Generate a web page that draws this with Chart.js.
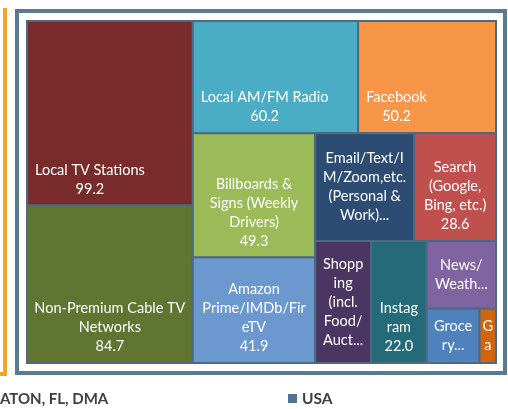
<!DOCTYPE html>
<html>
<head>
<meta charset="utf-8">
<script src="https://cdn.jsdelivr.net/npm/chart.js@4.4.1/dist/chart.umd.min.js"></script>
<style>
  html, body { margin: 0; padding: 0; background: #fff; }
  #wrap { position: relative; width: 508px; height: 409px; overflow: hidden; font-family: Lato, "Open Sans", sans-serif; }
  #side { position: absolute; left: -10px; top: 8px; width: 13px; height: 364px; border-right: 4px solid #f4a521; border-bottom: 4px solid #f4a521; }
  #frame { position: absolute; left: 15px; top: 9px; width: 484px; height: 358px; border: 4px solid #5a7a90; }
  #chart { position: absolute; left: 0; top: 0; }
  #place { position: absolute; left: 0; top: 389px; font-size: 15px; font-weight: bold; color: #404040; line-height: 18px; }
  #legend { position: absolute; left: 288px; top: 389px; font-size: 15.5px; font-weight: bold; color: #404040; line-height: 18px; }
  #legend span { display: inline-block; width: 9px; height: 9px; margin-right: 5px; vertical-align: 1px; }
</style>
</head>
<body>
<div id="wrap">
  <div id="side"></div>
  <div id="frame"></div>
  <canvas id="chart" width="508" height="409"></canvas>
  <div id="place">ATON, FL, DMA</div>
  <div id="legend"></div>
</div>
<script>
const categories = [
  "Local TV Stations",
  "Non-Premium Cable TV Networks",
  "Local AM/FM Radio",
  "Facebook",
  "Billboards & Signs (Weekly Drivers)",
  "Amazon Prime/IMDb/FireTV",
  "Email/Text/IM/Zoom,etc. (Personal & Work)",
  "Search (Google, Bing, etc.)",
  "Shopping (incl. Food/Auctions)",
  "Instagram",
  "News/ Weather",
  "Grocery",
  "Gaming",
];
const usaValues = [99.2, 84.7, 60.2, 50.2, 49.3, 41.9, 34.6, 28.6, 22.1, 22.0, 15.2, 9.3, 2.9];
const cellColors = [
  "#782b2a", "#5f7531", "#4bacc6", "#f79646", "#9bbb59", "#6b98cf", "#2c4c74",
  "#c0504d", "#4b3563", "#246a78", "#8064a2", "#4f81bd", "#d0650f",
];
const seriesName = "USA";

// squarified layout (d3 style), ratio < 1 to match the office layout
function squarify(vals, x0, y0, x1, y1, ratio) {
  const out = [];
  let total = vals.reduce((a, b) => a + b, 0);
  let i0 = 0;
  while (i0 < vals.length) {
    const dx = x1 - x0, dy = y1 - y0;
    let i1 = i0;
    let sum = vals[i1++], minV = sum, maxV = sum;
    const alpha = Math.max(dy / dx, dx / dy) / (total * ratio);
    let beta = sum * sum * alpha;
    let best = Math.max(maxV / beta, beta / minV);
    for (; i1 < vals.length; i1++) {
      const v = vals[i1];
      const s2 = sum + v;
      const mn = Math.min(minV, v), mx = Math.max(maxV, v);
      beta = s2 * s2 * alpha;
      const r = Math.max(mx / beta, beta / mn);
      if (r > best) break;
      best = r; sum = s2; minV = mn; maxV = mx;
    }
    if (dx < dy) {
      const h = dy * sum / total;
      let x = x0;
      for (let i = i0; i < i1; i++) {
        const w = dx * vals[i] / sum;
        out.push({ x0: x, y0: y0, x1: x + w, y1: y0 + h });
        x += w;
      }
      y0 += h;
    } else {
      const w = dx * sum / total;
      let y = y0;
      for (let i = i0; i < i1; i++) {
        const h = dy * vals[i] / sum;
        out.push({ x0: x0, y0: y, x1: x0 + w, y1: y + h });
        y += h;
      }
      x0 += w;
    }
    total -= sum;
    i0 = i1;
  }
  return out;
}

function wrapLabel(ctx, text, maxW) {
  const lines = [];
  let cur = "";
  text.split(" ").forEach((word) => {
    const cand = cur ? cur + " " + word : word;
    if (ctx.measureText(cand).width <= maxW) { cur = cand; return; }
    if (cur) lines.push(cur);
    cur = "";
    if (ctx.measureText(word).width <= maxW) { cur = word; return; }
    let piece = "";
    for (const ch of word) {
      if (piece && ctx.measureText(piece + ch).width > maxW) { lines.push(piece); piece = ""; }
      piece += ch;
    }
    cur = piece;
  });
  if (cur) lines.push(cur);
  return lines;
}

const treemapCells = {
  id: "treemapCells",
  afterDatasetsDraw(chart) {
    const { ctx } = chart;
    const xs = chart.scales.x, ys = chart.scales.y;
    const aspect = (xs.right - xs.left) / (ys.bottom - ys.top);
    const rects = squarify(usaValues, 0, 0, aspect, 1, 0.8);
    const padL = 8, padX = 7, padY = 7, lineH = 19;
    ctx.save();
    ctx.font = "14.5px Lato";
    ctx.textAlign = "center";
    ctx.textBaseline = "middle";
    rects.forEach((r, i) => {
      const left = xs.getPixelForValue(r.x0 / aspect);
      const right = xs.getPixelForValue(r.x1 / aspect);
      const top = ys.getPixelForValue(r.y0);
      const bottom = ys.getPixelForValue(r.y1);
      ctx.fillStyle = cellColors[i];
      ctx.fillRect(left, top, right - left, bottom - top);
      ctx.strokeStyle = "#4d6a82";
      ctx.lineWidth = 2;
      ctx.strokeRect(left, top, right - left, bottom - top);

      const availW = right - left - 2 * padX;
      const availH = bottom - top - 2 * padY;
      const valueText = usaValues[i].toFixed(1);
      let lines = wrapLabel(ctx, categories[i], availW).concat([valueText]);
      const maxLines = Math.max(1, Math.floor(availH / lineH));
      const cut = lines.length > maxLines;
      if (cut) {
        lines = lines.slice(0, maxLines);
        const last = lines[maxLines - 1];
        let t = last;
        while (t.length > 0 && ctx.measureText(t + "...").width > availW) t = t.slice(0, -1);
        lines[maxLines - 1] = t.length ? t + "..." : last;
      }
      const natural = Math.max(ctx.measureText(categories[i]).width, ctx.measureText(valueText).width);
      const cx = left + padL + natural <= right - padX
        ? left + padL + natural / 2
        : (left + right) / 2;
      let firstY;
      if (cut) {
        firstY = (top + bottom) / 2 - (lines.length - 1) * lineH / 2;
      } else {
        firstY = bottom - padY - lineH / 2 - (lines.length - 1) * lineH;
      }
      ctx.fillStyle = "#ffffff";
      lines.forEach((ln, k) => ctx.fillText(ln, cx, firstY + k * lineH));
    });
    ctx.restore();
  },
};

const chart = new Chart(document.getElementById("chart"), {
  type: "scatter",
  data: {
    datasets: [{ label: seriesName, data: [], backgroundColor: "#4f7394" }],
  },
  options: {
    responsive: false,
    animation: false,
    events: [],
    layout: { padding: { left: 27, top: 21, right: 12, bottom: 46 } },
    scales: {
      x: { type: "linear", min: 0, max: 1, display: false },
      y: { type: "linear", min: 0, max: 1, reverse: true, display: false },
    },
    plugins: {
      legend: { display: false },
      tooltip: { enabled: false },
    },
  },
  plugins: [treemapCells],
});

// legend entry built from the dataset
const ds = chart.data.datasets[0];
document.getElementById("legend").innerHTML =
  '<span style="background:' + ds.backgroundColor + '"></span>' + ds.label;
</script>
</body>
</html>
